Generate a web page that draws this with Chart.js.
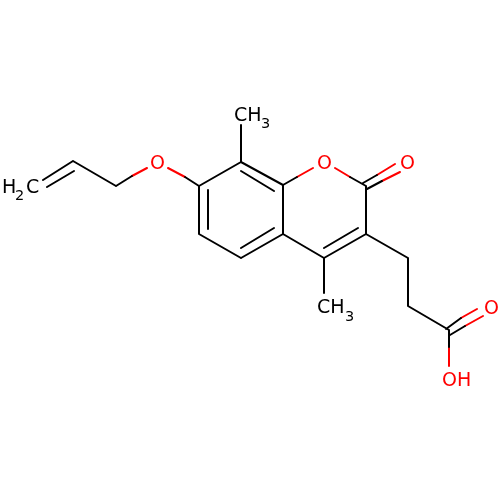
<!DOCTYPE html>
<html>
<head>
<meta charset="utf-8">
<style>html,body{margin:0;padding:0;background:#fff}canvas{display:block}</style>
<script src="https://cdn.jsdelivr.net/npm/chart.js@4"></script>
</head>
<body>
<canvas id="c" width="500" height="500"></canvas>
<script>
// Bond segments: [x1, y1, x2, y2]
const blackBonds = [
  [43,180,73,161],[47,187,74,171],[73,161,116,186],[116,186,132,176],
  [185,177,199,186],[199,186,199,234],[208,190,208,229],[199,234,241,258],
  [199,186,241,162],[241,162,241,125],[241,162,283,185],[241,171,274,191],
  [283,185,283,234],[283,234,241,258],[274,228,241,248],[283,185,297,177],
  [350,177,366,186],[363,183,377,175],[367,189,382,181],[366,186,366,234],
  [366,234,324,258],[358,228,324,248],[283,234,324,258],[366,234,408,258],
  [408,258,408,306],[408,306,449,330],[446,329,461,318],[450,335,465,326],
  [449,330,449,347],[324,258,324,293]
];
const redBonds = [
  [132,176,147,168],[168,168,185,177],[297,177,313,168],[335,168,350,177],
  [377,175,395,164],[382,181,400,172],[461,318,477,309],[465,326,483,316],
  [449,347,449,366]
];
// Atom labels
const blackText  = ['CH','CH','H','C'];
const blackTextX = [234,317,2,26];
const blackTextY = [121,313,193,193];
const subText  = ['3','3','2'];
const subTextX = [261,345,15];
const subTextY = [128,321,200];
const redText  = ['O','O','O','O','OH'];
const redTextX = [150,317,400,484,442];
const redTextY = [169,169,169,314,386];

const toLine = segs => segs.flatMap(s => [{x:s[0],y:s[1]},{x:s[2],y:s[3]},{x:s[2],y:null}]);
const toPts = (t,xs,ys) => t.map((s,i) => ({x:xs[i],y:ys[i],text:s}));
const bondDs = (segs,color) => ({
  type:'scatter', data:toLine(segs), showLine:true, spanGaps:false, pointRadius:0,
  borderColor:color, borderWidth:2, borderCapStyle:'round', tension:0
});
const textDs = (pts,color,font) => ({
  type:'scatter', data:pts, showLine:false, pointRadius:0, borderColor:color, backgroundColor:color,
  labelFont:font, labelColor:color
});
const atomLabels = {
  id:'atomLabels',
  afterDatasetsDraw(chart){
    const {ctx,scales:{x,y}} = chart;
    ctx.save();
    ctx.textAlign='left';
    ctx.textBaseline='alphabetic';
    chart.data.datasets.forEach(d=>{
      if(!d.labelFont) return;
      ctx.font=d.labelFont;
      ctx.fillStyle=d.labelColor;
      d.data.forEach(p=>ctx.fillText(p.text,x.getPixelForValue(p.x),y.getPixelForValue(p.y)));
    });
    ctx.restore();
  }
};
new Chart(document.getElementById('c'),{
  data:{datasets:[
    bondDs(blackBonds,'#000000'),
    bondDs(redBonds,'#ff0000'),
    textDs(toPts(blackText,blackTextX,blackTextY),'#000000','19px "DejaVu Sans"'),
    textDs(toPts(subText,subTextX,subTextY),'#000000','14.5px "DejaVu Sans"'),
    textDs(toPts(redText,redTextX,redTextY),'#ff0000','19px "DejaVu Sans"')
  ]},
  options:{
    responsive:false, animation:false, devicePixelRatio:1,
    layout:{padding:0},
    plugins:{legend:{display:false},tooltip:{enabled:false},title:{display:false}},
    scales:{
      x:{type:'linear',min:0,max:500,display:false},
      y:{type:'linear',min:0,max:500,reverse:true,display:false}
    }
  },
  plugins:[atomLabels]
});
</script>
</body>
</html>
